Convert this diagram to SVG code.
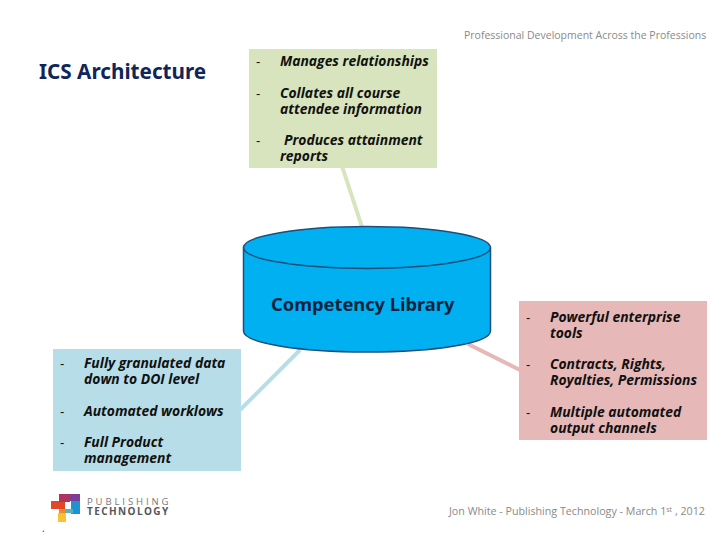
<svg xmlns="http://www.w3.org/2000/svg" width="728" height="546" viewBox="0 0 728 546">
<style>
.t{font:italic bold 13.9px "Open Sans","DejaVu Sans",sans-serif;fill:#111}
.d{font:13px "Liberation Sans",sans-serif;fill:#111}
.f{font:10.5px "Open Sans",sans-serif;fill:#8a8a8a}
.c{fill:none;stroke-width:4}
</style>
<rect width="728" height="546" fill="#fff"/>
<text x="464" y="39" class="f">Professional Development Across the Professions</text>
<text x="39" y="79" font-family="Noto Sans, sans-serif" font-weight="bold" font-size="20.700" fill="#10265a">ICS Architecture</text>
<g id="connectors">
<line class="c" x1="342" y1="166" x2="362" y2="227" stroke="#d7e4bd"/>
<line class="c" x1="300" y1="350" x2="240" y2="410" stroke="#b7dde8"/>
<line class="c" x1="468" y1="344" x2="520" y2="370" stroke="#e6b9b8"/>
</g>
<g id="node-green">
<rect x="249" y="49" width="188" height="119" fill="#d7e4bd"/>
<text x="256" y="66" class="d">-</text><text x="280" y="66" class="t">Manages relationships</text>
<text x="256" y="98" class="d">-</text><text x="280" y="98" class="t">Collates all course</text><text x="280" y="114" class="t">attendee information</text>
<text x="256" y="145" class="d">-</text><text x="284" y="145" class="t">Produces attainment</text><text x="280" y="161" class="t">reports</text>
</g>
<g id="node-library">
<path d="M243.500 247.500V331C243.500 343 298 352 367 352S490.500 343 490.500 331V247.500" fill="#00b0f0" stroke="#1f4e79" stroke-width="1.500"/>
<ellipse cx="367" cy="247.500" rx="123.500" ry="21" fill="#00b0f0" stroke="#1f4e79" stroke-width="1.500"/>
<text x="271" y="311" font-family="Noto Sans, sans-serif" font-weight="bold" font-size="18.300" fill="#0c2340">Competency Library</text>
</g>
<g id="node-red">
<rect x="519" y="301" width="188" height="139" fill="#e6b9b8"/>
<text x="526" y="322" class="d">-</text><text x="550" y="322" class="t">Powerful enterprise</text><text x="550" y="338" class="t">tools</text>
<text x="526" y="369" class="d">-</text><text x="550" y="369" class="t">Contracts, Rights,</text><text x="550" y="385" class="t">Royalties, Permissions</text>
<text x="526" y="417" class="d">-</text><text x="550" y="417" class="t">Multiple automated</text><text x="550" y="433" class="t">output channels</text>
</g>
<g id="node-blue">
<rect x="53" y="349" width="188" height="122" fill="#b7dde8"/>
<text x="60" y="368" class="d">-</text><text x="84" y="368" class="t">Fully granulated data</text><text x="84" y="384" class="t">down to DOI level</text>
<text x="60" y="416" class="d">-</text><text x="84" y="416" class="t">Automated worklows</text>
<text x="60" y="447" class="d">-</text><text x="84" y="447" class="t">Full Product</text><text x="84" y="463" class="t">management</text>
</g>
<g id="logo">
<rect x="51" y="501" width="14" height="8" fill="#e0472b"/>
<rect x="59" y="494" width="11" height="8" fill="#b0345c"/>
<rect x="59" y="509" width="7" height="4" fill="#ef8a2a"/>
<rect x="70" y="494" width="10" height="7" fill="#7a3e97"/>
<rect x="71" y="501" width="9" height="13" fill="#1c94d2"/>
<rect x="58" y="513" width="8" height="9" fill="#f6c335"/>
<rect x="65" y="509" width="8" height="4" fill="#55b5b5"/>
<text x="87" y="505" font-family="Open Sans, sans-serif" font-size="9.500" letter-spacing="2.900" fill="#77787b">PUBLISHING</text>
<text x="87" y="515" font-family="Open Sans, sans-serif" font-weight="bold" font-size="10" letter-spacing="1.400" fill="#55565a">TECHNOLOGY</text>
</g>
<text x="449" y="515" class="f" style="font-size:10.700px">Jon White - Publishing Technology - March 1<tspan dy="-3" style="font-size:7px">st</tspan><tspan dy="3"> , 2012</tspan></text>
<text x="42" y="532" font-family="Open Sans, sans-serif" font-size="10" fill="#333">.</text>
</svg>
